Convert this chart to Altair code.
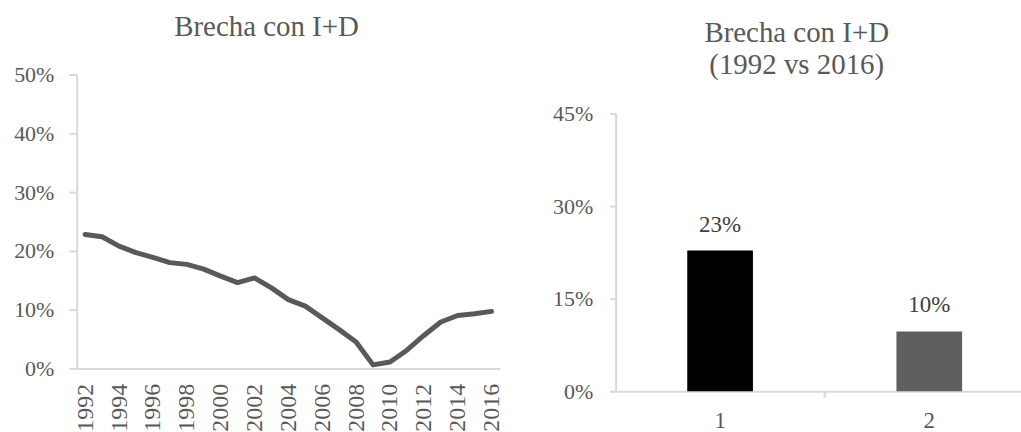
import altair as alt
import pandas as pd

# R&D gap (%) per year
years = [1992, 1993, 1994, 1995, 1996, 1997, 1998, 1999, 2000, 2001, 2002, 2003,
         2004, 2005, 2006, 2007, 2008, 2009, 2010, 2011, 2012, 2013, 2014, 2015, 2016]
brecha = [22.8, 22.4, 20.8, 19.7, 18.9, 18.0, 17.7, 16.9, 15.7, 14.6, 15.4, 13.7,
          11.7, 10.6, 8.6, 6.6, 4.5, 0.6, 1.1, 3.1, 5.6, 7.9, 9.0, 9.3, 9.7]
year_ticks = [1992, 1994, 1996, 1998, 2000, 2002, 2004, 2006, 2008, 2010, 2012, 2014, 2016]
left_y_ticks = [0.0, 0.1, 0.2, 0.3, 0.4, 0.5]

# 1992 vs 2016 comparison
bar_cats = ["1", "2"]
bar_values = [0.228, 0.097]
bar_colors = ["#000000", "#5f5f5f"]
right_y_ticks = [0.0, 0.15, 0.30, 0.45]

FONT = "Liberation Serif"
TEXT = "#595959"
AXIS = "#d9d9d9"

line_df = pd.DataFrame({"year": [str(y) for y in years], "gap": [v / 100 for v in brecha]})
bar_df = pd.DataFrame({"cat": bar_cats, "value": bar_values})

left = alt.Chart(
    line_df,
    title=alt.TitleParams("Brecha con I+D", anchor="middle", frame="bounds",
                          offset=22, dx=8),
).mark_line(color="#595959", strokeWidth=5, strokeJoin="round", strokeCap="round").encode(
    x=alt.X(
        "year:O",
        sort=None,
        scale=alt.Scale(type="point", padding=0.5),
        axis=alt.Axis(
            title=None, values=[str(y) for y in year_ticks], labelAngle=-90,
            ticks=False, labelPadding=15, labelFontSize=24, domainColor=AXIS,
            domainWidth=2,
        ),
    ),
    y=alt.Y(
        "gap:Q",
        scale=alt.Scale(domain=[0, 0.5], nice=False),
        axis=alt.Axis(
            title=None, values=left_y_ticks, format=".0%", grid=False,
            tickColor=AXIS, tickSize=8, tickWidth=2, domainColor=AXIS, domainWidth=2,
            labelPadding=15, labelFontSize=22,
        ),
    ),
).properties(width=425, height=295)

# the bar panel's value axis starts lower than the line panel's
BAR_H = 318
BAR_TOP = 39

bar_base = alt.Chart(
    bar_df,
    title=alt.TitleParams(["Brecha con I+D", "(1992 vs 2016)"], anchor="middle",
                          frame="bounds", lineHeight=32, dx=10, offset=-5),
).encode(
    x=alt.X(
        "cat:N",
        sort=bar_cats,
        scale=alt.Scale(paddingInner=0.686, paddingOuter=0.312, align=0.549),
        axis=alt.Axis(
            title=None, labelAngle=0, ticks=False, domainColor=AXIS, domainWidth=2,
            labelPadding=18, labelFontSize=23,
        ),
    ),
    y=alt.Y(
        "value:Q",
        scale=alt.Scale(domain=[0, 0.45], nice=False, range=[BAR_H, BAR_TOP]),
        axis=alt.Axis(
            title=None, values=right_y_ticks, format=".0%", grid=False,
            tickColor=AXIS, tickSize=6, tickWidth=2, domainColor=AXIS, domainWidth=2,
            labelPadding=17, labelFontSize=22,
        ),
    ),
)

bars = bar_base.mark_bar().encode(
    color=alt.Color("cat:N", scale=alt.Scale(domain=bar_cats, range=bar_colors), legend=None)
)
bar_text = bar_base.mark_text(
    baseline="bottom", dy=-14, font=FONT, fontSize=23, color="#404040"
).encode(text=alt.Text("value:Q", format=".0%"))

# small divider tick between the two categories on the category axis
divider = alt.Chart(bar_df).mark_rule(color=AXIS, strokeWidth=2).encode(
    x=alt.value(210), y=alt.value(BAR_H), y2=alt.value(BAR_H + 6)
)

right = alt.layer(bars, bar_text, divider).properties(width=407, height=BAR_H)

chart = alt.hconcat(left, right, spacing=48).properties(
    padding={"left": 13, "top": 12, "right": 0, "bottom": 0}
).configure_view(stroke=None).configure_title(
    font=FONT, fontSize=29, fontWeight="normal", color=TEXT
).configure_axis(
    labelFont=FONT, labelColor=TEXT
)

chart.save("out.html", embed_options={"renderer": "svg", "actions": False})
